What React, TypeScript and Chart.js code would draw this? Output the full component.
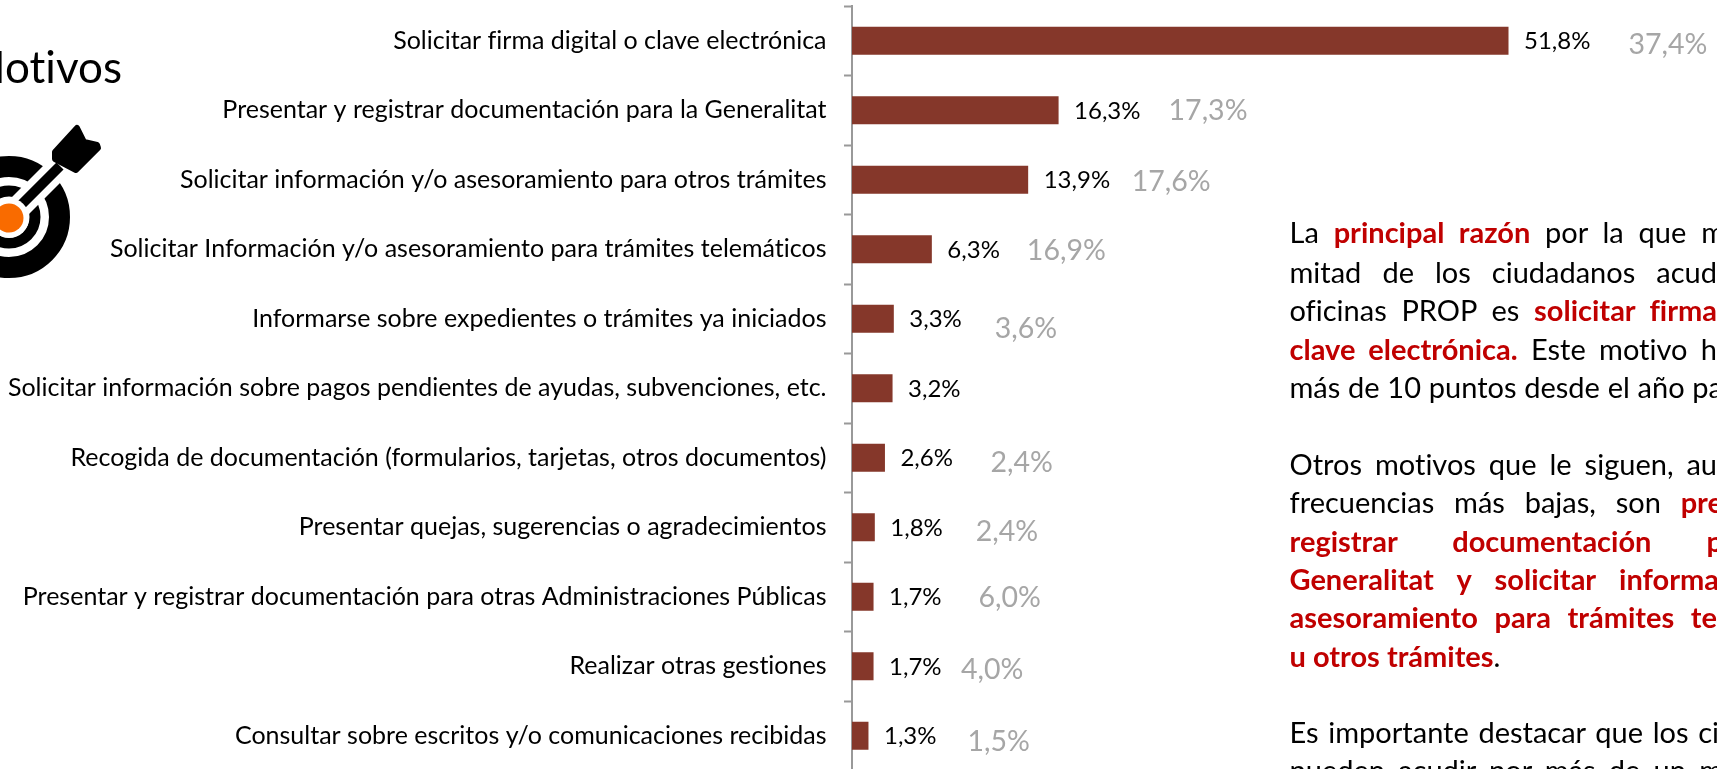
import React, { useEffect, useRef } from "react";
import { Chart, registerables } from "chart.js";

Chart.register(...registerables);

const categories = [
  "Solicitar firma digital o clave electrónica",
  "Presentar y registrar documentación para la Generalitat",
  "Solicitar información y/o asesoramiento para otros trámites",
  "Solicitar Información y/o asesoramiento para trámites telemáticos",
  "Informarse sobre expedientes o trámites ya iniciados",
  "Solicitar información sobre pagos pendientes de ayudas, subvenciones, etc.",
  "Recogida de documentación (formularios, tarjetas, otros documentos)",
  "Presentar quejas, sugerencias o agradecimientos",
  "Presentar y registrar documentación para otras Administraciones Públicas",
  "Realizar otras gestiones",
  "Consultar sobre escritos y/o comunicaciones recibidas",
];
const currentValues = [51.8, 16.3, 13.9, 6.3, 3.3, 3.2, 2.6, 1.8, 1.7, 1.7, 1.3];
const previousValues = [37.4, 17.3, 17.6, 16.9, 3.6, null, 2.4, 2.4, 6.0, 4.0, 1.5];

const previousLabelDx = [121, 111, 104.6, 96, 102, 0, 106.6, 102, 106, 88.4, 100];
const previousLabelDy = [3.8, 0.7, 2.5, 1.7, 10.5, 0, 5, 4.2, 0.7, 3.5, 5.7];

const FONT = "Lato";
const fmt = (v: number) => v.toFixed(1).replace(".", ",") + "%";

const valueLabels = {
  id: "valueLabels",
  beforeDraw(chart: any) {
    chart.ctx.textRendering = "optimizeSpeed";
  },
  afterDatasetsDraw(chart: any) {
    const { ctx, scales } = chart;
    ctx.save();
    ctx.textAlign = "left";
    ctx.textBaseline = "middle";
    currentValues.forEach((v, i) => {
      const x = scales.x.getPixelForValue(v);
      const y = scales.y.getPixelForValue(i);
      ctx.font = `24px ${FONT}`;
      ctx.fillStyle = "#000000";
      ctx.fillText(fmt(v), x + 15.5, y + 1);
      const p = previousValues[i];
      if (p !== null) {
        ctx.font = `28.5px ${FONT}`;
        ctx.fillStyle = "#A6A6A6";
        ctx.fillText(fmt(p), x + previousLabelDx[i] - 1, y + previousLabelDy[i]);
      }
    });
    ctx.restore();
  },
};

type Seg = [string, boolean];
const paragraphLines: { top: number; segs: Seg[]; justify: boolean; over: number }[] = [
  { top: 232, justify: true, over: 8, segs: [["La ", false], ["principal razón", true], [" por la que m", false]] },
  { top: 272, justify: true, over: 0, segs: [["mitad de los ciudadanos acud", false]] },
  { top: 310, justify: true, over: 0, segs: [["oficinas PROP es ", false], ["solicitar firma", true]] },
  { top: 349, justify: true, over: 0, segs: [["clave electrónica.", true], [" Este motivo h", false]] },
  { top: 387, justify: true, over: 6, segs: [["más de 10 puntos desde el año pa", false]] },
  { top: 464, justify: true, over: 0, segs: [["Otros motivos que le siguen, au", false]] },
  { top: 502, justify: true, over: 6, segs: [["frecuencias más bajas, son ", false], ["pre", true]] },
  { top: 541, justify: true, over: 6, segs: [["registrar documentación p", true]] },
  { top: 579, justify: true, over: 2, segs: [["Generalitat y solicitar informa", true]] },
  { top: 617, justify: true, over: 0, segs: [["asesoramiento para trámites te", true]] },
  { top: 656, justify: false, over: 0, segs: [["u otros trámites", true], [".", false]] },
  { top: 732, justify: true, over: 2, segs: [["Es importante destacar que los ci", false]] },
  { top: 770, justify: true, over: 6, segs: [["pueden acudir por más de un m", false]] },
];

function Target() {
  return (
    <svg width={120} height={180} viewBox="0 0 120 180" style={{ position: "absolute", left: 0, top: 110 }}>
      <circle cx={9} cy={107} r={50.5} fill="none" stroke="#000" strokeWidth={21} />
      <circle cx={9} cy={107} r={26} fill="none" stroke="#000" strokeWidth={11} />
      <line x1={9} y1={107} x2={60} y2={56} stroke="#fff" strokeWidth={24} />
      <line x1={9} y1={107} x2={60} y2={56} stroke="#000" strokeWidth={10} />
      <polygon points="55,42 77,18 84,32 97,35 98,38 76,60 55,49" fill="#000" stroke="#000" strokeWidth={6} strokeLinejoin="round" />
      <circle cx={9} cy={108} r={20} fill="#fff" />
      <circle cx={9} cy={108} r={14.5} fill="#F96B00" />
    </svg>
  );
}

export default function App() {
  const ref = useRef<HTMLCanvasElement>(null);
  useEffect(() => {
    document.body.style.margin = "0";
    const chart = new Chart(ref.current!, {
      type: "bar",
      data: {
        labels: categories,
        datasets: [{ data: currentValues, backgroundColor: "#85372A", barPercentage: 0.4, categoryPercentage: 1 }],
      },
      plugins: [valueLabels],
      options: {
        indexAxis: "y",
        animation: false,
        responsive: false,
        devicePixelRatio: 1,
        layout: { padding: { top: 6, bottom: 1.5, left: 0, right: 0 } },
        plugins: { legend: { display: false }, tooltip: { enabled: false } },
        scales: {
          x: { display: false, min: 0, max: 68.25 },
          y: {
            afterFit: (s: any) => { s.width = 852; s.paddingTop = 0; s.paddingBottom = 0; },
            border: { color: "#999999", width: 2 },
            grid: { drawOnChartArea: false, drawTicks: true, tickLength: 8, tickColor: "#999999", tickWidth: 2 },
            ticks: { color: "#000000", padding: 17.5, autoSkip: false, font: { family: FONT, size: 25 } },
          },
        },
      } as any,
    });
    return () => chart.destroy();
  }, []);
  return (
    <div style={{ position: "fixed", inset: 0, overflow: "hidden", background: "#fff", fontVariantLigatures: "none" }}>
      <canvas ref={ref} width={1717} height={772} style={{ position: "absolute", left: 0, top: 0 }} />
      <div style={{ position: "absolute", left: -100, width: 222, top: 42, lineHeight: "48px", textAlign: "right", fontFamily: FONT, fontSize: 44, color: "#000" }}>Motivos</div>
      <Target />
      {paragraphLines.map((l, i) => (
        <div key={i} style={{
          position: "absolute", left: 1289.5, width: 1717 - 1289.5 + l.over, top: l.top - 19, lineHeight: "38px",
          fontFamily: FONT, fontSize: 29, color: "#000", whiteSpace: "nowrap",
          textAlign: "left", textAlignLast: l.justify ? "justify" : "left",
        }}>
          {l.segs.map(([t, b], j) => (
            <span key={j} style={b ? { color: "#C00000", fontWeight: 700 } : undefined}>{t}</span>
          ))}
        </div>
      ))}
    </div>
  );
}
